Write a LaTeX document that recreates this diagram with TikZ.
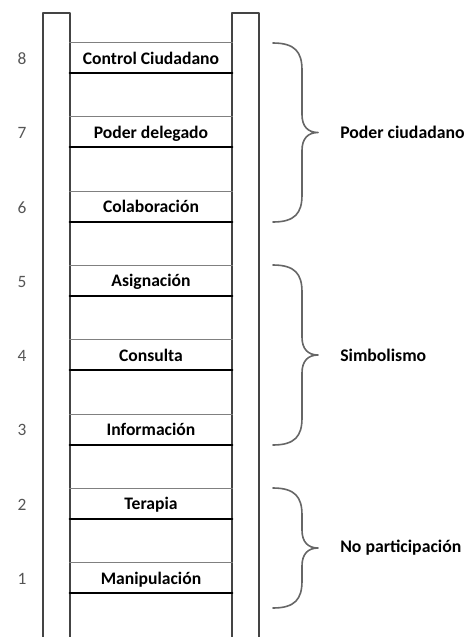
\documentclass[tikz,border=0pt]{standalone}
\usepackage{fontspec}
\setmainfont{Carlito}
\definecolor{railgray}{HTML}{444444}
\definecolor{numgray}{HTML}{555555}
\definecolor{bracegray}{HTML}{666666}
\begin{document}
\begin{tikzpicture}[x=0.75pt, y=-0.75pt, line join=round, line cap=round,
	rail/.style={draw=railgray, line width=1.3pt, fill=white},
	rung/.style={minimum width=121.5pt, minimum height=22.5pt, inner sep=0pt, text depth=0pt, font=\fontsize{13.2}{15}\selectfont\bfseries},
	num/.style={text=numgray, font=\fontsize{13}{15}\selectfont},
	grupo/.style={anchor=west, inner sep=0pt, font=\fontsize{13.3}{15}\selectfont\bfseries},
	llave/.style={draw=bracegray, line width=1.2pt}]
	\useasboundingbox (0,0) rectangle (467,637);
	\def\paso{74.3} % distancia entre peldanos
	\def\yuno{563} % borde superior del peldano 1
	% largueros
	\draw[rail] (43,650)--(43,13)--(70,13)--(70,650);
	\draw[rail] (232,650)--(232,13)--(259,13)--(259,650);
	% peldanos
	\foreach \i/\txt in {1/Manipulación,2/Terapia,3/Información,4/Consulta,5/Asignación,6/Colaboración,7/Poder delegado,8/Control Ciudadano}{
		\pgfmathsetmacro{\yc}{\yuno-(\i-1)*\paso+15}
		\node[rung] (r\i) at (151,\yc) {\txt};
		\node[num] (n\i) at (22,\yc+1) {\i};
		\draw[gray, line width=0.8pt] (r\i.north west)--(r\i.north east);
		\draw[black, line width=1.5pt] (r\i.south west)--(r\i.south east);
	}
	% llaves
	\foreach \ya/\yb/\nm/\txt in {43/222/poder/Poder ciudadano,265/445/simb/Simbolismo,488/608/nopart/No participación}{
		\pgfmathsetmacro{\ym}{(\ya+\yb)/2}
		\draw[llave] (273,\ya) .. controls (295,\ya) and (302,\ya+9) .. (302,\ya+27)
			-- (302,\ym-18) .. controls (302,\ym-6) and (308,\ym) .. (318,\ym)
			.. controls (308,\ym) and (302,\ym+6) .. (302,\ym+18)
			-- (302,\yb-27) .. controls (302,\yb-9) and (295,\yb) .. (273,\yb);
		\node[grupo] (\nm) at (340,\ym) {\txt};
	}
\end{tikzpicture}
\end{document}
